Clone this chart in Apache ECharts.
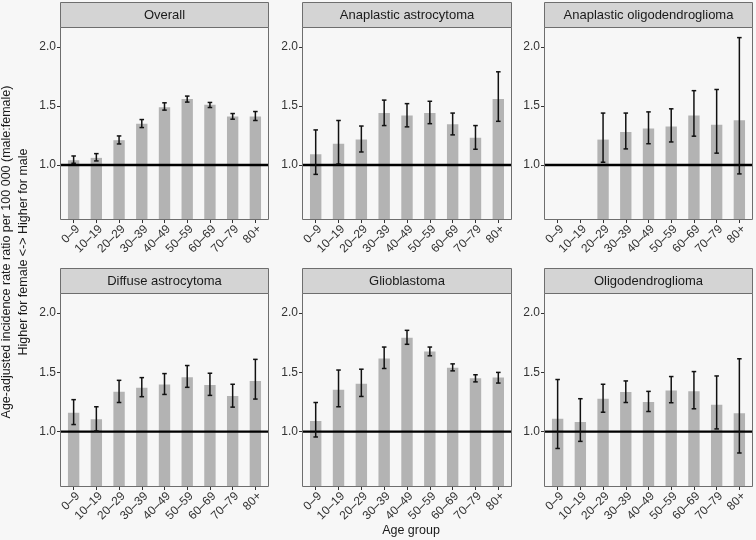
<!DOCTYPE html>
<html><head><meta charset="utf-8">
<script src="https://cdn.jsdelivr.net/npm/echarts@6/dist/echarts.min.js"></script>
<style>html,body{margin:0;padding:0;background:#f7f7f7}#c{width:756px;height:540px}</style>
</head><body><div id="c"></div>
<script>
const ageGroups = ['0–9','10–19','20–29','30–39','40–49','50–59','60–69','70–79','80+'];
const panelTitles = ['Overall','Anaplastic astrocytoma','Anaplastic oligodendroglioma','Diffuse astrocytoma','Glioblastoma','Oligodendroglioma'];
const yTicks = [1.0, 1.5, 2.0];
const refValue = 1.0;

const overallRatio = [1.04, 1.06, 1.21, 1.35, 1.49, 1.56, 1.51, 1.41, 1.41];
const overallLow   = [1.014, 1.034, 1.178, 1.317, 1.465, 1.533, 1.487, 1.388, 1.377];
const overallHigh  = [1.076, 1.096, 1.246, 1.385, 1.527, 1.584, 1.53, 1.436, 1.453];

const anaAstroRatio = [1.09, 1.18, 1.215, 1.44, 1.42, 1.44, 1.345, 1.23, 1.56];
const anaAstroLow   = [0.92, 1.008, 1.11, 1.334, 1.323, 1.35, 1.255, 1.133, 1.37];
const anaAstroHigh  = [1.297, 1.377, 1.33, 1.55, 1.52, 1.54, 1.44, 1.334, 1.79];

const anaOligoRatio = [null, null, 1.215, 1.28, 1.31, 1.325, 1.42, 1.34, 1.38];
const anaOligoLow   = [null, null, 1.023, 1.136, 1.18, 1.195, 1.244, 1.10, 0.924];
const anaOligoHigh  = [null, null, 1.44, 1.44, 1.45, 1.476, 1.63, 1.64, 2.08];

const diffAstroRatio = [1.16, 1.105, 1.337, 1.37, 1.397, 1.46, 1.394, 1.30, 1.428];
const diffAstroLow   = [1.06, 1.006, 1.246, 1.295, 1.314, 1.374, 1.306, 1.207, 1.275];
const diffAstroHigh  = [1.27, 1.21, 1.433, 1.456, 1.49, 1.558, 1.493, 1.40, 1.61];

const gbmRatio = [1.09, 1.354, 1.405, 1.618, 1.793, 1.677, 1.54, 1.45, 1.456];
const gbmLow   = [0.955, 1.21, 1.297, 1.533, 1.737, 1.64, 1.513, 1.42, 1.41];
const gbmHigh  = [1.246, 1.52, 1.527, 1.714, 1.855, 1.714, 1.572, 1.48, 1.50];

const oligoRatio = [1.108, 1.082, 1.278, 1.334, 1.25, 1.348, 1.34, 1.227, 1.156];
const oligoLow   = [0.858, 0.918, 1.164, 1.246, 1.17, 1.244, 1.193, 1.023, 0.82];
const oligoHigh  = [1.44, 1.278, 1.40, 1.428, 1.34, 1.465, 1.507, 1.47, 1.615];

const panels = [
  [overallRatio, overallLow, overallHigh],
  [anaAstroRatio, anaAstroLow, anaAstroHigh],
  [anaOligoRatio, anaOligoLow, anaOligoHigh],
  [diffAstroRatio, diffAstroLow, diffAstroHigh],
  [gbmRatio, gbmLow, gbmHigh],
  [oligoRatio, oligoLow, oligoHigh]
];

// layout
const panelX = [60, 302, 544];
const panelW = [209, 210, 209];
const stripTop = [2, 268];
const stripH = 25;
const plotH = [193, 194];
const yMin = 0.533, yMax = 2.17;
const FONT = '"Liberation Sans", Arial, Helvetica, sans-serif';

const chart = echarts.init(document.getElementById('c'), null, {renderer: 'canvas'});
const grids = [], xAxes = [], yAxes = [], series = [], graphics = [];

panels.forEach((p, i) => {
  const col = i % 3, row = Math.floor(i / 3);
  const w = panelW[col];
  const unit = w / 9.2;
  const inset = 0.1 * unit;
  const top = stripTop[row] + stripH;
  grids.push({left: panelX[col] + inset, width: 9 * unit, top: top, height: plotH[row], containLabel: false});
  xAxes.push({
    type: 'category', gridIndex: i, data: ageGroups,
    axisLine: {show: false},
    axisTick: {show: true, alignWithLabel: true, length: 3, lineStyle: {color: '#333'}},
    axisLabel: {rotate: 45, fontSize: 12, color: '#333', margin: 3, fontFamily: FONT, interval: 0,
      align: 'right', verticalAlign: 'top'}
  });
  yAxes.push({
    type: 'value', gridIndex: i, min: yMin, max: yMax, offset: inset,
    axisLine: {show: false},
    splitLine: {show: false},
    axisTick: {show: true, length: 3, customValues: yTicks, lineStyle: {color: '#333'}},
    axisLabel: {customValues: yTicks, fontSize: 12, color: '#333', margin: 4, fontFamily: FONT,
      formatter: v => v.toFixed(1)}
  });
  series.push({
    type: 'bar', xAxisIndex: i, yAxisIndex: i, data: p[0], barWidth: '50%',
    itemStyle: {color: '#b3b3b3'}, clip: true, z: 2, silent: true
  });
  series.push({
    type: 'custom', xAxisIndex: i, yAxisIndex: i, z: 3, silent: true,
    data: [[0, refValue]],
    encode: {x: 0, y: 1},
    renderItem: (params, api) => {
      const cs = params.coordSys;
      const y = api.coord([0, api.value(1)])[1];
      return {type: 'line', shape: {x1: cs.x - inset, y1: y, x2: cs.x + cs.width + inset, y2: y},
        style: {stroke: '#000', lineWidth: 2.4}};
    }
  });
  const eb = [];
  p[1].forEach((lo, k) => { if (lo !== null && p[2][k] !== null) eb.push([k, lo, p[2][k]]); });
  series.push({
    type: 'custom', xAxisIndex: i, yAxisIndex: i, z: 4, silent: true,
    data: eb, encode: {x: 0, y: [1, 2]},
    renderItem: (params, api) => {
      const x = api.value(0);
      const a = api.coord([x, api.value(2)]);
      const b = api.coord([x, api.value(1)]);
      const hw = api.size([1, 0])[0] * 0.2 / 2;
      const st = {stroke: '#111', lineWidth: 1.5};
      return {type: 'group', children: [
        {type: 'line', shape: {x1: a[0], y1: a[1], x2: b[0], y2: b[1]}, style: st},
        {type: 'line', shape: {x1: a[0] - hw, y1: a[1], x2: a[0] + hw, y2: a[1]}, style: st},
        {type: 'line', shape: {x1: b[0] - hw, y1: b[1], x2: b[0] + hw, y2: b[1]}, style: st}
      ]};
    }
  });
  // panel border
  graphics.push({type: 'rect', z: 100, silent: true,
    shape: {x: panelX[col] + 0.5, y: top + 0.5, width: w - 1, height: plotH[row] - 1},
    style: {fill: null, stroke: '#6e6e6e', lineWidth: 1}});
  // strip
  graphics.push({type: 'rect', z: 100, silent: true,
    shape: {x: panelX[col] + 0.5, y: stripTop[row] + 0.5, width: w - 1, height: stripH},
    style: {fill: '#d4d4d4', stroke: '#6e6e6e', lineWidth: 1}});
  graphics.push({type: 'text', z: 101, silent: true,
    x: panelX[col] + w / 2, y: stripTop[row] + stripH / 2 + 1,
    style: {text: panelTitles[i], fill: '#1a1a1a', font: '13px ' + FONT, align: 'center', verticalAlign: 'middle'}});
});

graphics.push({type: 'text', z: 101, silent: true, x: 15, y: 252, rotation: Math.PI / 2,
  style: {text: 'Age-adjusted incidence rate ratio per 100 000 (male:female)\nHigher for female <-> Higher for male',
    fill: '#1a1a1a', font: '12.5px ' + FONT, align: 'center', verticalAlign: 'middle', lineHeight: 17}});
graphics.push({type: 'text', z: 101, silent: true, x: 411, y: 531,
  style: {text: 'Age group', fill: '#1a1a1a', font: '12.5px ' + FONT, align: 'center', verticalAlign: 'middle'}});

chart.setOption({
  backgroundColor: '#f7f7f7',
  animation: false,
  grid: grids, xAxis: xAxes, yAxis: yAxes, series: series, graphic: graphics
});
</script></body></html>
